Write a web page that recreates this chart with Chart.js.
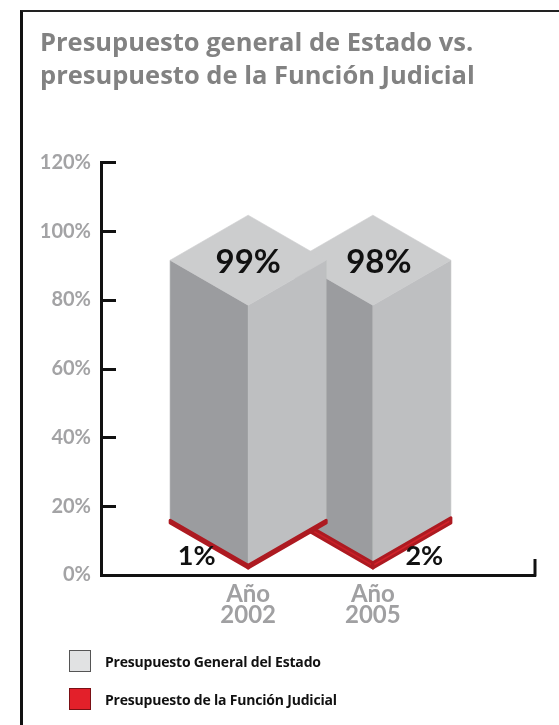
<!DOCTYPE html>
<html lang="es">
<head>
    <meta charset="UTF-8">
    <title>Presupuesto general de Estado vs. presupuesto de la Función Judicial</title>
    <script src="https://cdn.jsdelivr.net/npm/chart.js"></script>
    <style>
        body {
            margin: 0;
            background: #fff;
        }
        #wrap {
            position: relative;
            width: 559px;
            height: 725px;
            overflow: hidden;
        }
        #frame {
            position: absolute;
            left: 20px;
            top: 10px;
            width: 700px;
            height: 800px;
            border-left: 3px solid #111;
            border-top: 2px solid #222;
        }
        canvas {
            position: absolute;
            left: 0;
            top: 0;
        }
        #legend {
            position: absolute;
            left: 69px;
            top: 650px;
        }
        .item {
            display: flex;
            align-items: center;
            height: 22px;
            margin-bottom: 16px;
            font-family: "Open Sans", sans-serif;
            font-weight: bold;
            font-size: 14px;
            color: #111;
            letter-spacing: -0.2px;
        }
        .box {
            width: 20px;
            height: 20px;
            margin-right: 14px;
            border: 1px solid #555;
        }
    </style>
</head>
<body>
<div id="wrap">
    <div id="frame"></div>
    <canvas id="chart" width="559" height="725"></canvas>
    <div id="legend"></div>
</div>

<script>
    // datos
    const categories = [['Año', '2002'], ['Año', '2005']];
    const generalValues = [99, 98];
    const judicialValues = [1, 2];
    const yTicks = [0, 20, 40, 60, 80, 100, 120];
    const seriesNames = ['Presupuesto General del Estado', 'Presupuesto de la Función Judicial'];

    const grey = { left: '#9b9c9f', right: '#bebfc1', top: '#cccdce', swatch: '#e1e2e3', edge: '#555' };
    const red = { left: '#c91f27', right: '#d2222a', stroke: '#ad1a21', swatch: '#e3202a', edge: '#7a1015' };

    const K = Math.tan(Math.PI / 6);

    function poly(ctx, pts, fill, stroke, lw) {
        ctx.beginPath();
        ctx.moveTo(pts[0][0], pts[0][1]);
        for (let i = 1; i < pts.length; i++) ctx.lineTo(pts[i][0], pts[i][1]);
        ctx.closePath();
        ctx.fillStyle = fill;
        ctx.fill();
        ctx.lineJoin = 'round';
        ctx.strokeStyle = stroke;
        ctx.lineWidth = lw;
        ctx.stroke();
    }

    // prisma isometrico a partir de la barra de Chart.js
    function prism(ctx, el, c, withTop, lw) {
        const { x, y, base, width } = el.getProps(['x', 'y', 'base', 'width'], true);
        const a = width / 2, d = a * K;
        poly(ctx, [[x - a, y - d], [x, y], [x, base], [x - a, base - d]], c.left, c.stroke || c.left, lw);
        poly(ctx, [[x, y], [x + a, y - d], [x + a, base - d], [x, base]], c.right, c.stroke || c.right, lw);
        if (withTop) {
            poly(ctx, [[x - a, y - d], [x, y], [x + a, y - d], [x, y - 2 * d]], c.top, c.top, lw);
        }
    }

    const isoBars = {
        id: 'isoBars',
        beforeDatasetsDraw(chart) {
            const ctx = chart.ctx;
            const jud = chart.getDatasetMeta(0).data;
            const gen = chart.getDatasetMeta(1).data;
            ctx.save();
            for (let i = gen.length - 1; i >= 0; i--) {
                prism(ctx, gen[i], grey, true, 0.6);
                prism(ctx, jud[i], red, false, 3);
            }
            // etiquetas
            ctx.fillStyle = '#111';
            ctx.textAlign = 'center';
            ctx.textBaseline = 'middle';
            gen.forEach((el, i) => {
                const a = el.width / 2;
                ctx.font = 'bold 33px Lato';
                ctx.fillText(generalValues[i] + '%', el.x + i * 6, el.y - a * K + 2);
            });
            jud.forEach((el, i) => {
                const a = el.width / 2;
                const side = i === 0 ? -1 : 1;
                ctx.font = 'bold 27px Lato';
                ctx.fillText(judicialValues[i] + '%', el.x + side * a * 0.66, el.base - 12);
            });
            ctx.restore();
            return false;
        },
        afterDraw(chart) {
            // marcas del eje hacia adentro
            const ctx = chart.ctx;
            const y = chart.scales.y;
            const area = chart.chartArea;
            ctx.save();
            ctx.strokeStyle = '#111';
            ctx.lineWidth = 3;
            y.ticks.forEach(t => {
                const py = Math.round(y.getPixelForValue(t.value)) + 0.5;
                ctx.beginPath();
                ctx.moveTo(area.left, py);
                ctx.lineTo(area.left + 15, py);
                ctx.stroke();
            });
            ctx.beginPath();
            ctx.moveTo(area.right, area.bottom + 1.5);
            ctx.lineTo(area.right, area.bottom - 16);
            ctx.stroke();
            ctx.restore();
        }
    };

    new Chart(document.getElementById('chart'), {
        type: 'bar',
        data: {
            datasets: [
                {
                    label: seriesNames[1],
                    data: judicialValues.map((v, i) => ({ x: i, y: v })),
                    yAxisID: 'yBar',
                    stack: 's',
                    barThickness: 156,
                    backgroundColor: red.swatch
                },
                {
                    label: seriesNames[0],
                    data: generalValues.map((v, i) => ({ x: i, y: v })),
                    yAxisID: 'yBar',
                    stack: 's',
                    barThickness: 156,
                    backgroundColor: grey.swatch
                }
            ]
        },
        options: {
            responsive: false,
            animation: false,
            layout: { padding: { left: 40, right: 24, top: 0, bottom: 100 } },
            plugins: {
                legend: { display: false },
                tooltip: { enabled: false },
                title: {
                    display: true,
                    text: ['Presupuesto general de Estado vs.', 'presupuesto de la Función Judicial'],
                    align: 'start',
                    color: '#828282',
                    font: { family: 'Open Sans', size: 25.5, weight: 'bold', lineHeight: 1.3 },
                    padding: { top: 27, bottom: 69 }
                }
            },
            scales: {
                x: {
                    type: 'linear',
                    offset: false,
                    min: -1.18,
                    max: 2.3,
                    grid: { display: false, drawTicks: false },
                    border: { color: '#111', width: 3 },
                    afterBuildTicks: s => { s.ticks = categories.map((c, i) => ({ value: i })); },
                    afterFit: s => { s.height = 50; },
                    ticks: {
                        color: '#a0a0a2',
                        padding: 9,
                        maxRotation: 0,
                        font: { family: 'Lato', size: 24, weight: 'bold', lineHeight: 0.88 },
                        callback: v => categories[v] || ''
                    }
                },
                y: {
                    position: 'left',
                    min: 0,
                    max: 120,
                    grid: { display: false, drawTicks: false },
                    border: { color: '#111', width: 3 },
                    afterBuildTicks: s => { s.ticks = yTicks.map(v => ({ value: v })); },
                    afterFit: s => { s.width = 61; },
                    ticks: {
                        color: '#a3a3a5',
                        padding: 10,
                        font: { family: 'Lato', size: 20, weight: 'bold' },
                        callback: v => v + '%'
                    }
                },
                yBar: {
                    display: false,
                    stacked: true,
                    min: -2.66,
                    max: 154.4
                }
            }
        },
        plugins: [isoBars]
    });

    // leyenda
    const legend = document.getElementById('legend');
    [[seriesNames[0], grey], [seriesNames[1], red]].forEach(([name, c]) => {
        const row = document.createElement('div');
        row.className = 'item';
        const box = document.createElement('span');
        box.className = 'box';
        box.style.background = c.swatch;
        box.style.borderColor = c.edge;
        row.appendChild(box);
        row.appendChild(document.createTextNode(name));
        legend.appendChild(row);
    });
</script>
</body>
</html>
